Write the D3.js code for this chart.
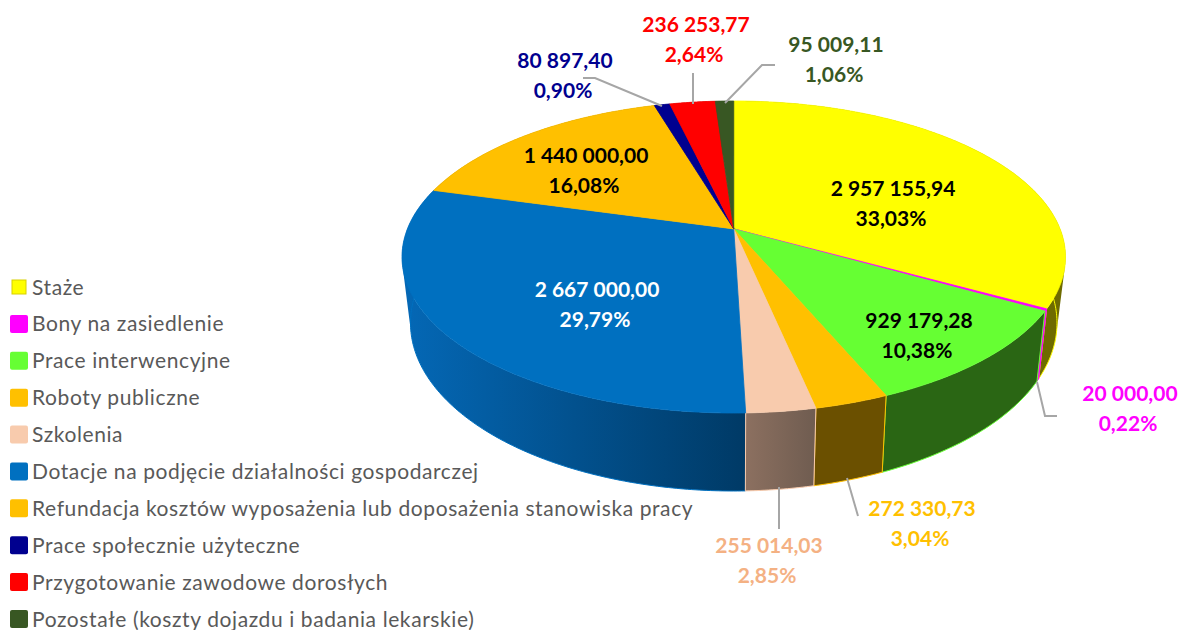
<!DOCTYPE html>
<html>
<head>
<meta charset="utf-8">
<script src="https://cdn.jsdelivr.net/npm/d3@7"></script>
<style>
html, body { margin: 0; background: #fff; }
text { font-family: Lato, "Open Sans", sans-serif; }
</style>
</head>
<body>
<svg id="vis" width="1180" height="630"></svg>
<script>
const categories = ["Staże", "Bony na zasiedlenie", "Prace interwencyjne", "Roboty publiczne", "Szkolenia",
  "Dotacje na podjęcie działalności gospodarczej", "Refundacja kosztów wyposażenia lub doposażenia stanowiska pracy",
  "Prace społecznie użyteczne", "Przygotowanie zawodowe dorosłych", "Pozostałe (koszty dojazdu i badania lekarskie)"];
const values = [2957155.94, 20000, 929179.28, 272330.73, 255014.03, 2667000, 1440000, 80897.40, 236253.77, 95009.11];
const valueLabels = ["2 957 155,94", "20 000,00", "929 179,28", "272 330,73", "255 014,03", "2 667 000,00", "1 440 000,00", "80 897,40", "236 253,77", "95 009,11"];
const percentLabels = ["33,03%", "0,22%", "10,38%", "3,04%", "2,85%", "29,79%", "16,08%", "0,90%", "2,64%", "1,06%"];

const colors = ["#ffff00", "#ff00ff", "#66ff33", "#ffc000", "#f8cbad", "#0070c0", "#ffc000", "#00008f", "#ff0000", "#385723"];
const labelColors = ["#000", "#ff00ff", "#000", "#ffc000", "#f4b183", "#fff", "#000", "#00008f", "#ff0000", "#385723"];
// side wall colours, left end and right end of the gradient
const sideColors = [["#6e6b00", "#6e6b00"], ["#ff00ff", "#ff00ff"], ["#2a6614", "#2a6614"], ["#6b5000", "#6b5000"], ["#8c7060", "#6f5c50"],
  ["#0468b6", "#003a66"], ["#6b5000", "#6b5000"], ["#00004f", "#00004f"], ["#700000", "#700000"], ["#1c2c12", "#1c2c12"]];

// label centres and leader lines
const labelPos = [[893, 188], [1130, 393], [919, 320], [922, 508], [769, 545], [597, 289], [586, 155], [565, 60], [696, 24], [836, 44]];
const leaders = {
  1: [[1037, 382], [1045, 416], [1057, 416]],
  3: [[847, 478], [858, 516]],
  4: [[779, 487], [779, 529]],
  7: [[662, 106], [595, 78], [583, 78]],
  8: [[693, 104], [693, 73]],
  9: [[725, 103], [762, 65], [775, 65]]
};

const svg = d3.select("#vis");
const defs = svg.append("defs");

const xTop = d3.scaleLinear([-1, 1], [402, 1065.5]);
const yTop = d3.scaleLinear([-1, 1], [101, 413]);
const xBot = d3.scaleLinear([-1, 1], [410.5, 1057]);
const yBot = d3.scaleLinear([-1, 1], [155, 491]);

// tilted disc: circle point to unit ellipse point, centre pulled up by k
const k = -0.18;
const unit = a => {
  const u = Math.sin(a), v = -Math.cos(a), w = 1 + k * v;
  return [u * Math.sqrt(1 - k * k) / w, (v + k) / w];
};
const centre = [0, k];

const arcs = d3.pie().sort(null)(values);
const sample = d => {
  const n = Math.max(2, Math.ceil((d.endAngle - d.startAngle) / 0.01));
  return d3.range(n + 1).map(i => unit(d.startAngle + (d.endAngle - d.startAngle) * i / n));
};
const topLine = d3.line().x(p => xTop(p[0])).y(p => yTop(p[1]));
const botLine = d3.line().x(p => xBot(p[0])).y(p => yBot(p[1]));
const path = d3.line();

arcs.forEach((d, i) => {
  const ext = d3.extent(sample(d), p => xTop(p[0]));
  const grad = defs.append("linearGradient").attr("id", "side" + i)
    .attr("gradientUnits", "userSpaceOnUse")
    .attr("x1", ext[0]).attr("x2", ext[1])
    .attr("y1", 0).attr("y2", 0);
  grad.append("stop").attr("offset", 0).attr("stop-color", sideColors[i][0]);
  grad.append("stop").attr("offset", 1).attr("stop-color", sideColors[i][1]);
});

// side walls, back ones first
const order = d3.range(arcs.length).sort((a, b) =>
  unit((arcs[a].startAngle + arcs[a].endAngle) / 2)[1] - unit((arcs[b].startAngle + arcs[b].endAngle) / 2)[1]);
const walls = svg.append("g").selectAll("g").data(order).join("g");
// one path of same-wound strips, so the sweep also fills the straight silhouette edges
walls.append("path")
  .attr("d", i => d3.pairs(sample(arcs[i])).map(s => {
    const quad = [
      [xTop(s[0][0]), yTop(s[0][1])], [xTop(s[1][0]), yTop(s[1][1])],
      [xBot(s[1][0]), yBot(s[1][1])], [xBot(s[0][0]), yBot(s[0][1])]
    ];
    if (d3.polygonArea(quad) < 0) quad.reverse();
    return path(quad) + "Z";
  }).join(""))
  .attr("fill", i => `url(#side${i})`);
// bright edges of each wall
walls.append("path")
  .attr("d", i => {
    const pts = sample(arcs[i]);
    const first = pts[0], last = pts[pts.length - 1];
    return botLine(pts) + path([[xBot(first[0]), yBot(first[1])], [xTop(first[0]), yTop(first[1])]])
      + path([[xBot(last[0]), yBot(last[1])], [xTop(last[0]), yTop(last[1])]]);
  })
  .attr("fill", "none")
  .attr("stroke", i => colors[i])
  .attr("stroke-width", 1);

// top face
svg.append("g").selectAll("path").data(arcs).join("path")
  .attr("d", d => topLine([centre].concat(sample(d))) + "Z")
  .attr("fill", (d, i) => colors[i])
  .attr("stroke", (d, i) => colors[i])
  .attr("stroke-width", 0.8);

// leaders
svg.append("g").selectAll("path").data(Object.values(leaders)).join("path")
  .attr("d", d => path(d))
  .attr("fill", "none")
  .attr("stroke", "#a6a6a6")
  .attr("stroke-width", 2);

// data labels
const labels = svg.append("g").selectAll("g").data(categories).join("g")
  .attr("transform", (d, i) => `translate(${labelPos[i][0]},${labelPos[i][1]})`)
  .attr("fill", (d, i) => labelColors[i])
  .attr("text-anchor", "middle")
  .attr("font-size", 21)
  .attr("font-weight", 700);
labels.append("text").attr("dy", "0.36em").text((d, i) => valueLabels[i]);
labels.append("text").attr("x", -2).attr("y", 30).attr("dy", "0.36em").text((d, i) => percentLabels[i]);

// legend
const yLegend = d3.scalePoint(categories, [287, 619]);
const legend = svg.append("g").selectAll("g").data(categories).join("g")
  .attr("transform", d => `translate(0,${yLegend(d)})`);
legend.append("rect")
  .attr("x", (d, i) => i ? 10 : 12).attr("y", (d, i) => i ? -9 : -7)
  .attr("width", (d, i) => i ? 18 : 14).attr("height", (d, i) => i ? 18 : 14)
  .attr("rx", (d, i) => i ? 2 : 0)
  .attr("fill", (d, i) => colors[i])
  .attr("stroke", (d, i) => i ? "none" : "#d8d000")
  .attr("stroke-width", 1);
legend.append("text")
  .attr("x", 32).attr("dy", "0.36em")
  .attr("fill", "#595959")
  .attr("font-size", 21)
  .attr("letter-spacing", 0.6)
  .text(d => d);
</script>
</body>
</html>
